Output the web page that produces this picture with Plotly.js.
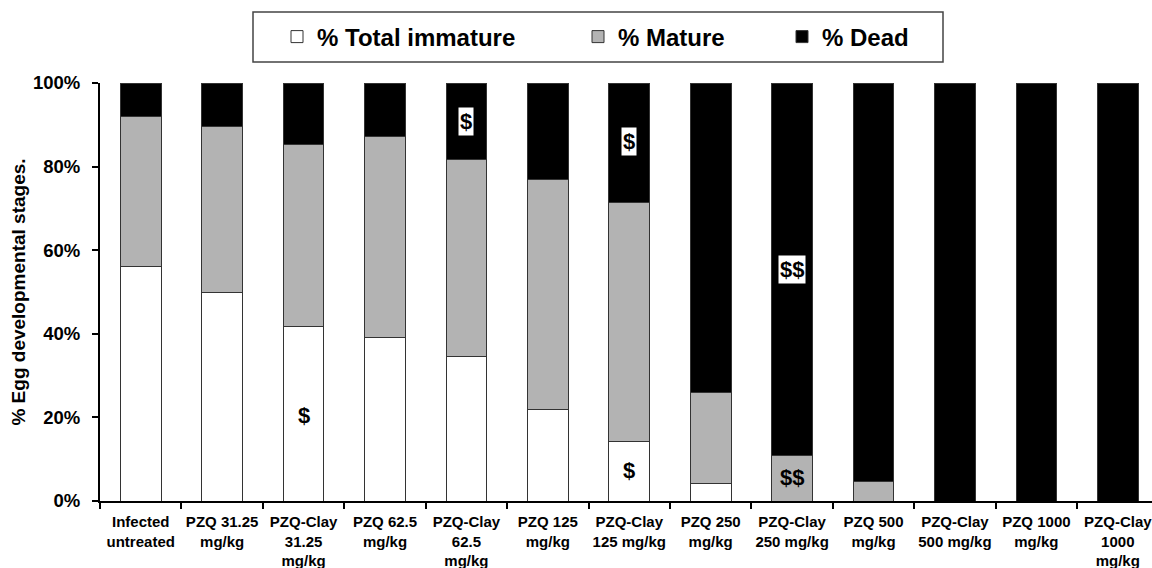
<!DOCTYPE html>
<html>
<head>
<meta charset="utf-8">
<script src="https://cdn.plot.ly/plotly-3.0.1.min.js"></script>
<style>
  html, body { margin: 0; padding: 0; background: #fff; }
  #chart { width: 1152px; height: 568px; }
</style>
</head>
<body>
<div id="chart"></div>
<script>
// Treatment groups (x categories)
const groups = [
  "Infected<br>untreated",
  "PZQ 31.25<br>mg/kg",
  "PZQ-Clay<br>31.25<br>mg/kg",
  "PZQ 62.5<br>mg/kg",
  "PZQ-Clay<br>62.5<br>mg/kg",
  "PZQ 125<br>mg/kg",
  "PZQ-Clay<br>125 mg/kg",
  "PZQ 250<br>mg/kg",
  "PZQ-Clay<br>250 mg/kg",
  "PZQ 500<br>mg/kg",
  "PZQ-Clay<br>500 mg/kg",
  "PZQ 1000<br>mg/kg",
  "PZQ-Clay<br>1000<br>mg/kg"
];

// Percentage of eggs at each developmental stage
const totalImmature = [56.1, 49.9, 41.8, 39.1, 34.5, 21.8, 14.3, 4.3, 0, 0, 0, 0, 0];
const mature        = [35.8, 39.7, 43.4, 48.1, 47.2, 55.2, 57.1, 21.6, 10.9, 4.7, 0, 0, 0];
const dead          = [8.1, 10.4, 14.8, 12.8, 18.3, 23.0, 28.6, 74.1, 89.1, 95.3, 100, 100, 100];

// Significance marks: group index, stage value where the mark sits, label
const markGroup = [2, 4, 6, 6, 8, 8];
const markValue = [20.5, 90.8, 86.0, 7.3, 55.4, 5.6];
const markLabel = ["$", "$", "$", "$", "$$", "$$"];
const markOnDark = [false, true, true, false, true, false];

const FONT = "Liberation Sans, Arial, Helvetica, sans-serif";
const outline = { color: "#333333", width: 1 };

const traces = [
  { name: "% Total immature", y: totalImmature, color: "#ffffff", legend: "legend" },
  { name: "% Mature", y: mature, color: "#b3b3b3", legend: "legend2" },
  { name: "% Dead", y: dead, color: "#000000", legend: "legend3" }
].map(s => ({
  type: "bar",
  name: s.name,
  x: groups,
  y: s.y,
  legend: s.legend,
  marker: { color: s.color, line: outline },
  hoverinfo: "x+y+name"
}));

const annotations = markGroup.map((g, i) => ({
  xref: "x", yref: "y",
  x: groups[g], y: markValue[i],
  text: markLabel[i],
  showarrow: false,
  font: { family: FONT, size: 22, color: "#000", weight: "bold" },
  bgcolor: markOnDark[i] ? "#ffffff" : "rgba(0,0,0,0)",
  borderpad: 1
}));

const legendCommon = {
  orientation: "h",
  xref: "container", yref: "container",
  xanchor: "left", yanchor: "middle",
  y: 1 - 37 / 568,
  bgcolor: "rgba(0,0,0,0)",
  borderwidth: 0,
  font: { family: FONT, size: 24, color: "#000", weight: "bold" }
};

const layout = {
  width: 1152, height: 568,
  margin: { l: 100, r: 0, t: 83, b: 67, pad: 0 },
  paper_bgcolor: "#fff", plot_bgcolor: "#fff",
  font: { family: FONT, color: "#000", weight: "bold" },
  barmode: "stack",
  bargap: 0.5,
  showlegend: true,
  legend: Object.assign({}, legendCommon, { x: 277 / 1152 }),
  legend2: Object.assign({}, legendCommon, { x: 578 / 1152 }),
  legend3: Object.assign({}, legendCommon, { x: 782 / 1152 }),
  xaxis: {
    type: "category",
    range: [-0.5, 12.42],
    showline: true, linecolor: "#000", linewidth: 2,
    ticks: "outside", ticklen: 6, tickwidth: 2, tickcolor: "#000",
    tickson: "boundaries",
    tickangle: 0,
    ticklabelstandoff: 6,
    tickfont: { family: FONT, size: 15, color: "#000", weight: "bold" },
    showgrid: false, zeroline: false, fixedrange: true
  },
  yaxis: {
    range: [0, 100],
    tick0: 0, dtick: 20,
    ticksuffix: "%",
    showline: true, linecolor: "#000", linewidth: 2,
    ticks: "outside", ticklen: 6, tickwidth: 2, tickcolor: "#000",
    ticklabelstandoff: 8,
    tickfont: { family: FONT, size: 18.5, color: "#000", weight: "bold" },
    showgrid: false, zeroline: false, fixedrange: true,
    title: {
      text: "% Egg developmental stages.",
      font: { family: FONT, size: 19, color: "#000", weight: "bold" },
      standoff: 2
    }
  },
  shapes: [{
    type: "rect", xref: "paper", yref: "paper",
    x0: (253 - 100) / 1052, x1: (943 - 100) / 1052,
    y0: (501 - 62) / 418, y1: (501 - 12) / 418,
    line: { color: "#444", width: 1.5 },
    fillcolor: "rgba(0,0,0,0)"
  }],
  annotations: annotations
};

Plotly.newPlot("chart", traces, layout, { displayModeBar: false, staticPlot: true });
</script>
</body>
</html>
